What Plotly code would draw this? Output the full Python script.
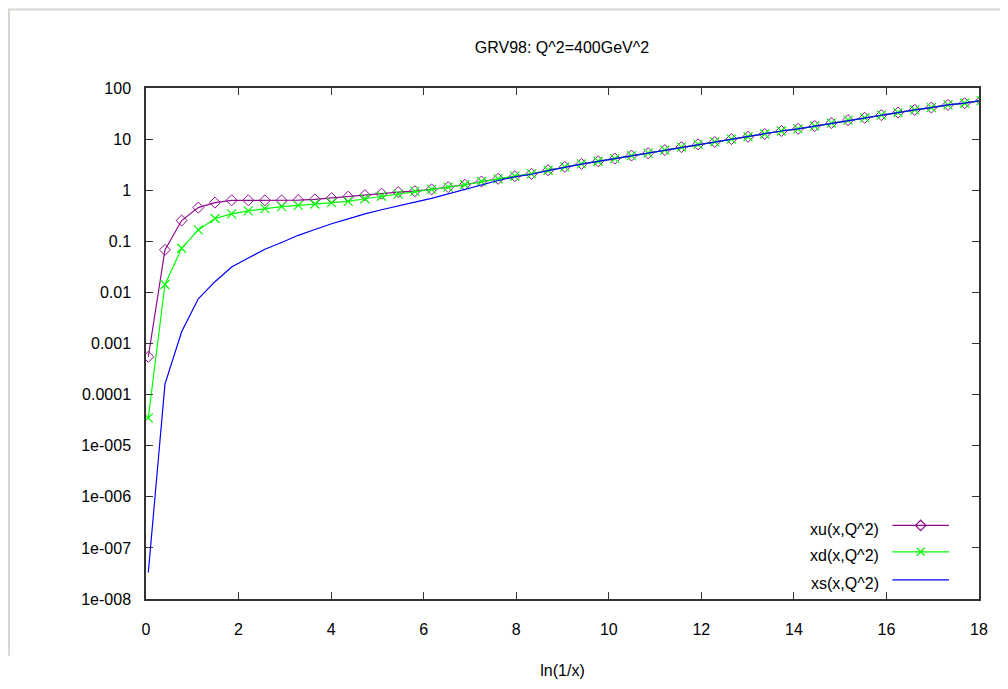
import plotly.graph_objects as go

# ---- data ----
ln_inv_x = [0.05 + 0.36 * k for k in range(51)]

xu_vals = [5.5e-4, 0.068, 0.255, 0.456, 0.571, 0.634, 0.634, 0.634, 0.63, 0.64,
           0.662, 0.70, 0.746, 0.80, 0.855, 0.92, 0.96, 1.04, 1.15, 1.28,
           1.48, 1.67, 1.88, 2.09, 2.46, 2.87, 3.28, 3.68, 4.16, 4.76,
           5.3, 6.1, 6.95, 7.9, 8.8, 10.0, 11.1, 12.6, 14.4, 15.9,
           18.0, 20.6, 23.5, 26.1, 29.4, 33.0, 37.3, 41.4, 46.7, 50.4, 57.0]

xd_vals = [3.5e-5, 0.0143, 0.073, 0.167, 0.279, 0.343, 0.393, 0.436, 0.478, 0.506,
           0.537, 0.571, 0.605, 0.68, 0.76, 0.84, 0.95, 1.04, 1.15, 1.28,
           1.48, 1.67, 1.88, 2.09, 2.46, 2.87, 3.28, 3.68, 4.16, 4.76,
           5.3, 6.1, 6.95, 7.9, 8.8, 10.0, 11.1, 12.6, 14.4, 15.9,
           18.0, 20.6, 23.5, 26.1, 29.4, 33.0, 37.3, 41.4, 46.7, 50.4, 57.0]

xs_vals = [3.3e-8, 1.6e-4, 1.7e-3, 7.5e-3, 0.0162, 0.0315, 0.047, 0.070, 0.095, 0.131,
           0.17, 0.221, 0.275, 0.344, 0.414, 0.50, 0.586, 0.69, 0.85, 1.05,
           1.28, 1.55, 1.82, 2.05, 2.42, 2.84, 3.25, 3.66, 4.14, 4.74,
           5.28, 6.08, 6.93, 7.88, 8.78, 9.98, 11.1, 12.6, 14.4, 15.9,
           18.0, 20.6, 23.5, 26.1, 29.4, 33.0, 37.3, 41.4, 46.7, 50.4, 57.0]

series_names = ["xu(x,Q^2)", "xd(x,Q^2)", "xs(x,Q^2)"]
x_ticks = [0, 2, 4, 6, 8, 10, 12, 14, 16, 18]
y_ticks = [1e-8, 1e-7, 1e-6, 1e-5, 1e-4, 1e-3, 1e-2, 1e-1, 1, 10, 100]
y_ticktext = ["1e-008", "1e-007", "1e-006", "1e-005", "0.0001", "0.001",
              "0.01", "0.1", "1", "10", "100"]

# ---- styles ----
PURPLE = "#8f0a8f"
GREEN = "#00ff00"
BLUE = "#0000ff"
FONT = "Arial, Liberation Sans, sans-serif"
FS = 16

fig = go.Figure()

fig.add_trace(go.Scatter(x=ln_inv_x, y=xu_vals, mode="lines+markers",
                         line=dict(color=PURPLE, width=1.2),
                         marker=dict(symbol="diamond-open", size=8.5,
                                     color=PURPLE, line=dict(width=1, color=PURPLE)),
                         showlegend=False, cliponaxis=True))
fig.add_trace(go.Scatter(x=ln_inv_x, y=xd_vals, mode="lines+markers",
                         line=dict(color=GREEN, width=1.2),
                         marker=dict(symbol="x-thin-open", size=9,
                                     color=GREEN, line=dict(width=1.2, color=GREEN)),
                         showlegend=False, cliponaxis=True))
fig.add_trace(go.Scatter(x=ln_inv_x, y=xs_vals, mode="lines",
                         line=dict(color=BLUE, width=1.2),
                         showlegend=False, cliponaxis=True))

# ---- gnuplot-style key (text left of sample) on an overlay axis ----
key_y = [0.144, 0.0924, 0.0375]
key_styles = [("lines+markers", PURPLE, "diamond-open"),
              ("lines+markers", GREEN, "x-thin-open"),
              ("lines", BLUE, None)]
for name, ky, (mode, col, sym) in zip(series_names, key_y, key_styles):
    fig.add_trace(go.Scatter(x=[0.896, 0.930, 0.964], y=[ky, ky, ky],
                             mode="lines", line=dict(color=col, width=1.2),
                             xaxis="x2", yaxis="y2", showlegend=False))
    if sym:
        fig.add_trace(go.Scatter(x=[0.930], y=[ky], mode="markers",
                                 marker=dict(symbol=sym, size=8, color=col,
                                             line=dict(width=1.2, color=col)),
                                 xaxis="x2", yaxis="y2", showlegend=False))
    fig.add_annotation(x=0.882, y=ky - 0.008, xref="x2", yref="y2", text=name,
                       showarrow=False, xanchor="right", yanchor="middle",
                       font=dict(family=FONT, size=FS, color="#000"))

# The page body has an 8px margin, so the figure starts at page (8, 8).
OFF = 8
FIG_W, FIG_H = 1008 - OFF, 689 - OFF
L, R, T, B = 146 - OFF, 29, 88 - OFF, 87
W, H = FIG_W - L - R, FIG_H - T - B


def px(page_x):
    return (page_x - OFF - L) / W


def py(page_y):
    return (FIG_H - B - (page_y - OFF)) / H


# window-frame lines seen in the screenshot (drawn at the figure edges)
FRAME = "#d9d6d2"
fig.add_shape(type="line", xref="paper", yref="paper", x0=px(8.5), x1=px(1010),
              y0=py(9), y1=py(9), line=dict(color=FRAME, width=2))
fig.add_shape(type="line", xref="paper", yref="paper", x0=px(9), x1=px(9),
              y0=py(8), y1=py(659), line=dict(color=FRAME, width=2))

axis_common = dict(showline=True, linecolor="#333333", linewidth=1.5, mirror="allticks",
                   ticks="inside", ticklen=7, tickcolor="#333333", tickwidth=1.2,
                   showgrid=False, zeroline=False,
                   tickfont=dict(family=FONT, size=FS, color="#000"))

fig.update_layout(
    width=FIG_W, height=FIG_H,
    margin=dict(l=L, r=R, t=T, b=B),
    paper_bgcolor="white", plot_bgcolor="white",
    title=dict(text="GRV98: Q^2=400GeV^2", x=px(562), xref="paper",
               xanchor="center", y=1 - (47 - OFF) / FIG_H, yanchor="middle",
               font=dict(family=FONT, size=FS, color="#000")),
    xaxis=dict(range=[0, 18], tickvals=x_ticks, ticklabelstandoff=15,
               title=dict(text="ln(1/x)", standoff=28,
                          font=dict(family=FONT, size=FS, color="#000")),
               **axis_common),
    yaxis=dict(type="log", range=[-8, 2], tickvals=y_ticks, ticktext=y_ticktext,
               ticklabelstandoff=10, **axis_common),
    xaxis2=dict(overlaying="x", range=[0, 1], visible=False),
    yaxis2=dict(overlaying="y", range=[0, 1], visible=False),
    showlegend=False,
)

fig.write_html("out.html", config={"displayModeBar": False})
